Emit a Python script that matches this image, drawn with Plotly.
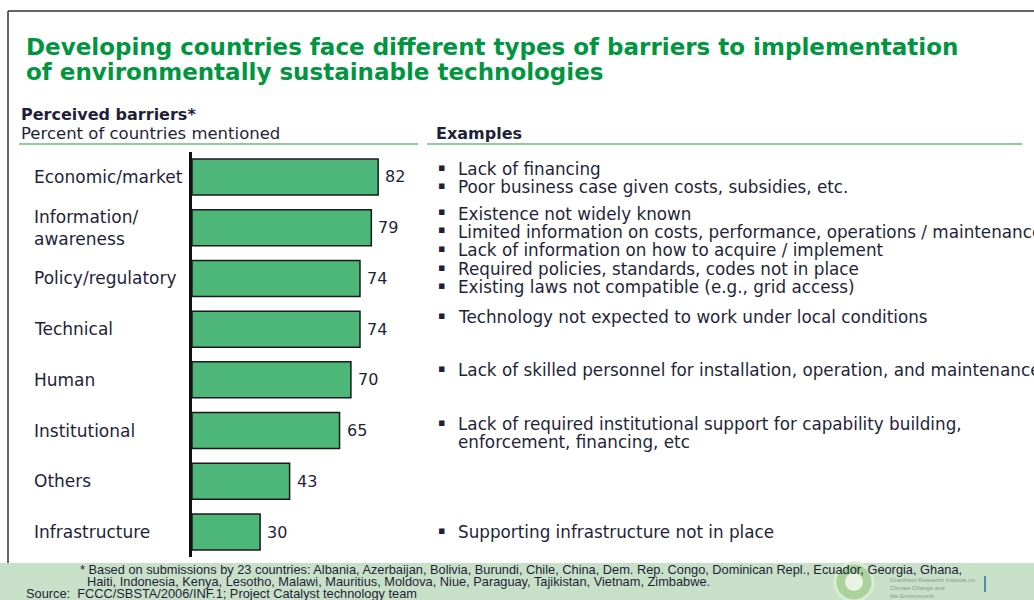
import plotly.graph_objects as go

W, H = 1034, 600

# data
categories = ["Economic/market", "Information/<br>awareness", "Policy/regulatory", "Technical",
              "Human", "Institutional", "Others", "Infrastructure"]
values = [82, 79, 74, 74, 70, 65, 43, 30]

# examples, one block per barrier (empty for "Others")
examples = [
    ["Lack of financing", "Poor business case given costs, subsidies, etc."],
    ["Existence not widely known",
     "Limited information on costs, performance, operations / maintenance",
     "Lack of information on how to acquire / implement"],
    ["Required policies, standards, codes not in place",
     "Existing laws not compatible (e.g., grid access)"],
    ["Technology not expected to work under local conditions"],
    ["Lack of skilled personnel for installation, operation, and maintenance"],
    ["Lack of required institutional support for capability building,",
     "enforcement, financing, etc"],
    [],
    ["Supporting infrastructure not in place"],
]
# pixel y of first line of each block
example_top = [169, 214, 269, 317, 370, 424, None, 532]

title_lines = ["Developing countries face different types of barriers to implementation",
               "of environmentally sustainable technologies"]
footnote = ["* Based on submissions by 23 countries: Albania, Azerbaijan, Bolivia, Burundi, Chile, China, "
            "Dem. Rep. Congo, Dominican Repl., Ecuador, Georgia, Ghana,",
            "Haiti, Indonesia, Kenya, Lesotho, Malawi, Mauritius, Moldova, Niue, Paraguay, Tajikistan, "
            "Vietnam, Zimbabwe."]
source = "Source:  FCCC/SBSTA/2006/INF.1; Project Catalyst technology team"

GREEN_T = "#00963f"
BAR = "#4db679"
INK = "#1f1f3a"
FONT = "DejaVu Sans"


def X(px):
    return px / W


def Y(py):
    return 1 - py / H


def txt(px, py, text, size, color=INK, family=FONT, bold=False, align="left"):
    return dict(x=X(px), y=Y(py), xref="paper", yref="paper", xanchor="left", yanchor="middle",
                text=f"<b>{text}</b>" if bold else text, align=align, showarrow=False,
                font=dict(family=family, size=size, color=color))


fig = go.Figure()
fig.add_trace(go.Bar(
    x=values, y=categories, orientation="h",
    marker=dict(color=BAR, line=dict(color="#1a1a1a", width=1.5)),
    width=0.71,
    hoverinfo="x+y",
))

ann = []
# value labels just past the bar ends
for c, v in zip(categories, values):
    ann.append(dict(x=v, y=c, xref="x", yref="y", xanchor="left", yanchor="middle", xshift=5,
                    text=str(v), showarrow=False, font=dict(family=FONT, size=16, color=INK)))

# title and headers
ann.append(txt(24, 47, title_lines[0], 23, GREEN_T, bold=True))
ann.append(txt(24, 72, title_lines[1], 23, GREEN_T, bold=True))
ann.append(txt(19, 115, "Perceived barriers*", 16, bold=True))
ann.append(txt(19, 133, "Percent of countries mentioned", 16.5))
ann.append(txt(434, 133, "Examples", 16, bold=True))

# category labels, left aligned
for c in categories:
    ann.append(dict(x=X(32), y=c, xref="paper", yref="y", xanchor="left", yanchor="middle",
                    text=c, align="left", showarrow=False,
                    font=dict(family=FONT, size=17, color=INK)))

# example bullets
for lines, top in zip(examples, example_top):
    if top is None:
        continue
    for i, line in enumerate(lines):
        py = top + i * 18
        if not line.startswith("enforcement"):
            ann.append(txt(436, py - 2, "▪", 11))
        ann.append(txt(456, py, line, 16.8))

# footer
FOOT = "Liberation Sans Narrow, Arial Narrow, Liberation Sans"
ann.append(txt(78, 569, footnote[0], 12.8, family=FOOT))
ann.append(txt(85, 581, footnote[1], 12.8, family=FOOT))
ann.append(txt(24, 593, source, 12.8, family=FOOT))
ann.append(dict(x=X(888), y=Y(588), xref="paper", yref="paper", xanchor="left", yanchor="middle",
                text="Grantham Research Institute on<br>Climate Change and<br>the Environment",
                align="left", showarrow=False, font=dict(family=FOOT, size=6, color="#8a9a8a")))

shapes = [
    # footer band
    dict(type="rect", xref="paper", yref="paper", x0=X(0), x1=X(W), y0=Y(600), y1=Y(563),
         fillcolor="#c8dfc8", line=dict(width=0), layer="below"),
    # frame
    dict(type="line", xref="paper", yref="paper", x0=X(8), x1=X(W), y0=Y(11), y1=Y(11),
         line=dict(color="#333333", width=1.5)),
    dict(type="line", xref="paper", yref="paper", x0=X(8), x1=X(8), y0=Y(11), y1=Y(563),
         line=dict(color="#333333", width=1.5)),
    # header underlines
    dict(type="line", xref="paper", yref="paper", x0=X(19), x1=X(418), y0=Y(144), y1=Y(144),
         line=dict(color="#8fcb9f", width=2)),
    dict(type="line", xref="paper", yref="paper", x0=X(427), x1=X(1022), y0=Y(144), y1=Y(144),
         line=dict(color="#8fcb9f", width=2)),
    # logo
    dict(type="circle", xref="paper", yref="paper", x0=X(835), x1=X(873), y0=Y(601), y1=Y(563),
         fillcolor="#a9d39a", line=dict(color="#d8ecd0", width=3)),
    dict(type="circle", xref="paper", yref="paper", x0=X(845), x1=X(863), y0=Y(591), y1=Y(573),
         fillcolor="#e8f3e2", line=dict(width=0)),
    dict(type="line", xref="paper", yref="paper", x0=X(985), x1=X(985), y0=Y(576), y1=Y(592),
         line=dict(color="#4a8fb0", width=2)),
]

fig.update_layout(
    width=W, height=H,
    margin=dict(l=0, r=0, t=0, b=0),
    paper_bgcolor="white", plot_bgcolor="rgba(0,0,0,0)",
    showlegend=False,
    xaxis=dict(domain=[X(192), X(192 + 227)], range=[0, 100], visible=False, fixedrange=True),
    yaxis=dict(domain=[Y(557.4), Y(151.6)], type="category", categoryarray=categories,
               range=[7.5, -0.5], showticklabels=False, showgrid=False, zeroline=False,
               showline=True, linecolor="#111111", linewidth=3, ticks="", fixedrange=True),
    annotations=ann,
    shapes=shapes,
)

# page body has a default 8px margin; drop it so the figure sits at the window corner
fig.write_html("out.html", config={"displayModeBar": False},
               post_script="document.body.style.margin='0';")
